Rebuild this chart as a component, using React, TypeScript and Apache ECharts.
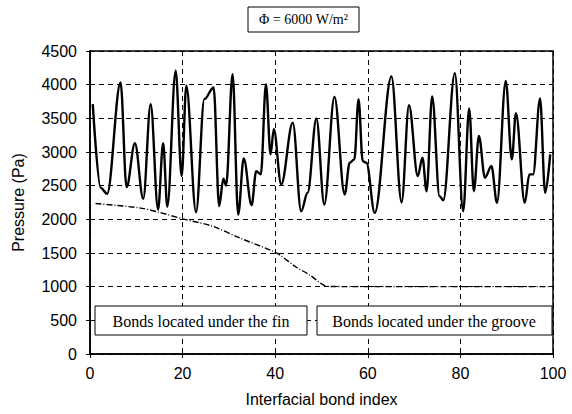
import React, { useEffect, useRef } from "react";
import * as echarts from "echarts";

// Pressure at interfacial bonds (local extrema)
const bondIndex: number[] = [
  0.6, 2.3, 3.7, 6.6, 7.9, 9.7, 11.5, 13.1, 14.7, 15.8, 16.7, 18.5, 19.8, 20.8, 22.9, 24.7, 26.7, 27.9,
  28.8, 29.4, 30.8, 32.0, 33.2, 34.9, 35.9, 36.9, 38.0, 39.0, 39.7, 41.3, 43.8, 45.6, 47.0, 48.9, 50.6,
  52.8, 55.0, 56.1, 57.1, 58.0, 58.9, 59.7, 61.5, 65.1, 67.3, 68.9, 70.8, 71.8, 72.7, 73.9, 75.5, 76.3,
  78.8, 80.6, 81.9, 82.9, 84.0, 85.3, 86.7, 87.9, 89.8, 91.1, 92.0, 93.9, 94.9, 95.7, 97.2, 98.3, 99.4,
];
const pressure: number[] = [
  3710, 2469, 2380, 4033, 2478, 3129, 2305, 3710, 2146, 3129, 2186, 4206, 2642, 3983, 2105, 3785, 3959, 2195,
  2603, 2503, 4157, 2071, 2905, 2210, 2716, 2667, 4008, 2965, 3337, 2518, 3437, 2120, 2394, 3497, 2220,
  3819, 2369, 2841, 2891, 3785, 2865, 2841, 2096, 4122, 2254, 3695, 2642, 2916, 2418, 3825, 2344, 2284,
  4172, 2120, 3646, 2418, 3238, 2618, 2791, 2245, 4057, 2891, 3576, 2245, 2667, 2667, 3795, 2394, 2965,
];

// Lower (dash-dot) curve
const lowerIndex: number[] = [1.2, 10.6, 14.6, 20.0, 26.5, 32.3, 39.1, 40.9, 44.5, 47.4, 50.6, 52.4, 60, 70, 80, 90, 99.4];
const lowerPressure: number[] = [2235, 2171, 2111, 2007, 1897, 1724, 1539, 1475, 1292, 1177, 1018, 1003, 1000, 1000, 1000, 1000, 1000];

const xTicks = { min: 0, max: 100, interval: 20 };
const yTicks = { min: 0, max: 4500, interval: 500 };

const titleText = "Φ = 6000 W/m²";
const finText = "Bonds located under the fin";
const grooveText = "Bonds located under the groove";
const xName = "Interfacial bond index";
const yName = "Pressure (Pa)";

export default function App() {
  const ref = useRef<HTMLDivElement>(null);
  useEffect(() => {
    document.body.style.margin = "0";
    if (!ref.current) return;
    const chart = echarts.init(ref.current, undefined, { renderer: "svg" });
    const sans = "Liberation Sans, Arial, sans-serif";
    const serif = "Liberation Serif, Times New Roman, serif";
    const upper = bondIndex.map((x, i) => [x, pressure[i]]);
    const lower = lowerIndex.map((x, i) => [x, lowerPressure[i]]);
    const boxStyle = { fill: "#fff", stroke: "#000", lineWidth: 1 };
    chart.setOption({
      animation: false,
      backgroundColor: "#fff",
      grid: {
        left: 90,
        right: 19,
        top: 51,
        bottom: 60,
        show: true,
        borderColor: "#000",
        borderWidth: 1.5,
        backgroundColor: "transparent",
      },
      xAxis: {
        type: "value",
        min: xTicks.min,
        max: xTicks.max,
        interval: xTicks.interval,
        name: xName,
        nameLocation: "middle",
        nameGap: 37,
        nameTextStyle: { fontFamily: sans, fontSize: 16, color: "#000" },
        axisLine: { lineStyle: { color: "#000", width: 1.5 } },
        axisTick: { show: true, length: 4, lineStyle: { color: "#000" } },
        axisLabel: { fontFamily: sans, fontSize: 16, color: "#000", margin: 11, formatter: (v: number) => String(v) },
        splitLine: { show: true, lineStyle: { color: "#000", type: [5, 4], width: 1 } },
      },
      yAxis: {
        type: "value",
        min: yTicks.min,
        max: yTicks.max,
        interval: yTicks.interval,
        name: yName,
        nameLocation: "middle",
        nameGap: 64,
        nameTextStyle: { fontFamily: sans, fontSize: 16, color: "#000" },
        axisLine: { show: true, lineStyle: { color: "#000", width: 1.5 } },
        axisTick: { show: true, length: 4, lineStyle: { color: "#000" } },
        axisLabel: { fontFamily: sans, fontSize: 16, color: "#000", margin: 13, formatter: (v: number) => String(v) },
        splitLine: { show: true, lineStyle: { color: "#000", type: [5, 4], width: 1 } },
      },
      series: [
        {
          type: "line",
          data: upper,
          smooth: 0.35,
          smoothMonotone: "x",
          showSymbol: false,
          lineStyle: { color: "#000", width: 2.4 },
        },
        {
          type: "line",
          data: lower,
          smooth: 0.3,
          showSymbol: false,
          lineStyle: { color: "#000", width: 1.4, type: [6, 2, 1, 2] },
        },
      ],
      graphic: [
        {
          type: "group",
          children: [
            { type: "rect", shape: { x: 248, y: 7, width: 111, height: 25 }, style: boxStyle },
            {
              type: "text",
              x: 303.5,
              y: 19.5,
              style: { text: titleText, font: `14px ${serif}`, fill: "#000", align: "center", verticalAlign: "middle" },
            },
            { type: "rect", shape: { x: 95, y: 306, width: 212, height: 29 }, style: boxStyle, z: 100 },
            {
              type: "text",
              x: 201,
              y: 321,
              z: 101,
              style: { text: finText, font: `16px ${serif}`, fill: "#000", align: "center", verticalAlign: "middle" },
            },
            { type: "rect", shape: { x: 317, y: 306, width: 235, height: 29 }, style: boxStyle, z: 100 },
            {
              type: "text",
              x: 434,
              y: 321,
              z: 101,
              style: { text: grooveText, font: `16px ${serif}`, fill: "#000", align: "center", verticalAlign: "middle" },
            },
          ],
        },
      ],
    });
    return () => chart.dispose();
  }, []);
  return <div ref={ref} style={{ width: 572, height: 414 }} />;
}
